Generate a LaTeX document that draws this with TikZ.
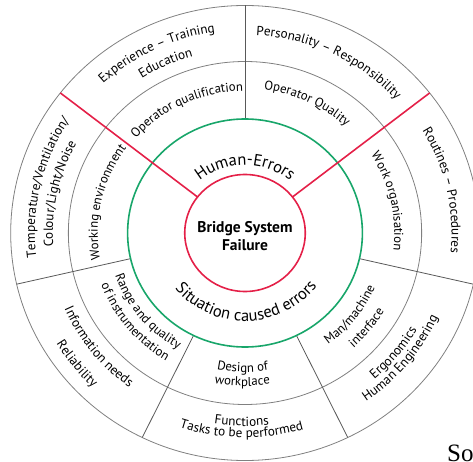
\documentclass[tikz,border=0pt]{standalone}
\usepackage{fontspec}
\setmainfont{PT Sans}
\newfontfamily\sourceserif{Liberation Serif}
\usetikzlibrary{decorations.text}
\definecolor{errred}{RGB}{228,32,72}
\definecolor{errgreen}{RGB}{24,166,106}

\newcommand\corefont{\fontsize{16.5}{16.5}\selectfont}
\newcommand\innerfont{\fontsize{12.8}{14}\selectfont}
\newcommand\outerfont{\fontsize{13.2}{14}\selectfont}

% text on an arc, letters facing outwards
\newcommand\arcout[3]{%
  \path[decorate,decoration={text along path,text align=center,text={#3}}]
    (#1+75:#2) arc[start angle=#1+75,end angle=#1-75,radius=#2];}
% text on an arc, letters facing the centre
\newcommand\arcin[3]{%
  \path[decorate,decoration={text along path,text align=center,text={#3}}]
    (#1-75:#2) arc[start angle=#1-75,end angle=#1+75,radius=#2];}

\begin{document}
\begin{tikzpicture}[x=1.03pt,y=1pt,
  spoke/.style={draw=black!65,line width=0.8pt},
  errline/.style={draw=errred,line width=1.6pt}
  ]
  \useasboundingbox (0pt,0pt) rectangle (473pt,461pt);
  \begin{scope}[shift={(245pt,228pt)}]
    \draw[spoke,draw=black!50] (0,0) circle[radius=227.5];
    \draw[spoke,draw=black!50] (0,0) circle[radius=171.5];
    \foreach \a in {90,193,244,296,347}
      \draw[spoke] (\a:114) -- (\a:227.5);
    \draw[errgreen,line width=1.6pt] (0,0) circle[radius=114];
    \foreach \a in {38,142}
      \draw[errline] (\a:58.5) -- (\a:227.5);
    \draw[errline] (0,0) circle[radius=58.5];
    \node[font=\bfseries\fontsize{15.5}{18}\selectfont,align=center] (failure) at (0,-3) {Bridge System\\Failure};
    % inner ring
    \arcout{90}{68}{|\corefont|Human-Errors}
    \arcin{271}{88}{|\corefont|Situation caused errors}
    % middle ring
    \arcout{115}{142}{|\innerfont|Operator qualification}
    \arcout{64.5}{144.5}{|\innerfont|Operator Quality}
    \arcout{12.6}{145}{|\innerfont|Work organisation}
    \arcout{167.5}{143}{|\innerfont|Working environment}
    \arcin{322}{137.5}{|\innerfont|Man/machine}
    \arcin{322}{156}{|\innerfont|interface}
    \arcin{269}{139}{|\innerfont|Design of}
    \arcin{269}{153}{|\innerfont|workplace}
    \arcin{219}{133}{|\innerfont|Range and quality}
    \arcin{219}{149}{|\innerfont|of instrumentation}
    % outer ring
    \arcout{116}{203}{|\outerfont|Experience – Training}
    \arcout{115}{184}{|\outerfont|Education}
    \arcout{64}{198}{|\outerfont|Personality – Responsibility}
    \arcout{12.3}{200.5}{|\outerfont|Routines – Procedures}
    \arcout{167}{204}{|\outerfont|Temperature/Ventilation/}
    \arcout{168}{186.5}{|\outerfont|Colour/Light/Noise}
    \arcin{321}{193}{|\outerfont|Ergonomics}
    \arcin{321}{205.5}{|\outerfont|Human Engineering}
    \arcin{269}{193}{|\outerfont|Functions}
    \arcin{269}{204.5}{|\outerfont|Tasks to be performed}
    \arcin{218}{191}{|\outerfont|Information needs}
    \arcin{218}{214}{|\outerfont|Reliability}
  \end{scope}
  \node[anchor=base west,inner sep=0pt,font=\sourceserif\fontsize{25}{25}\selectfont] (source) at (447pt,-0.5pt) {So};
\end{tikzpicture}
\end{document}
